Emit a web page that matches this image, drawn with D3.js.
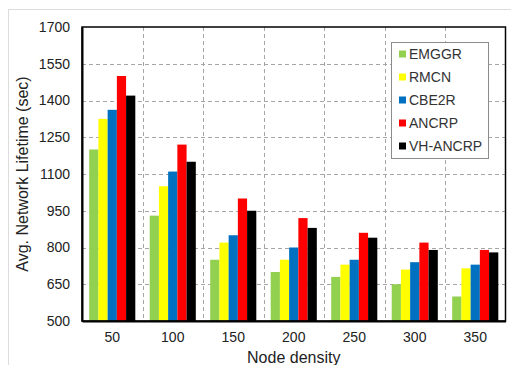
<!DOCTYPE html>
<html>
<head>
<meta charset="utf-8">
<script src="https://cdn.jsdelivr.net/npm/d3@7"></script>
<style>
  body { margin: 0; background: #fff; }
  svg { display: block; font-family: Arial, "Liberation Sans", sans-serif; }
</style>
</head>
<body>
<svg width="512" height="365"></svg>
<script>
// data
var densities = ["50", "100", "150", "200", "250", "300", "350"];
var protocols = ["EMGGR", "RMCN", "CBE2R", "ANCRP", "VH-ANCRP"];
var EMGGR    = [1200, 930, 750, 700, 680, 650, 600];
var RMCN     = [1325, 1050, 820, 750, 730, 710, 715];
var CBE2R    = [1362, 1110, 850, 800, 750, 740, 730];
var ANCRP    = [1500, 1220, 1000, 920, 860, 820, 790];
var VH_ANCRP = [1420, 1150, 950, 880, 840, 790, 780];
var yTicks = [500, 650, 800, 950, 1100, 1250, 1400, 1550, 1700];

var seriesValues = [EMGGR, RMCN, CBE2R, ANCRP, VH_ANCRP];
var colors = ["#92d050", "#ffff00", "#0070c0", "#ff0000", "#000000"];

// plot box (window.top is reserved, so keep these in an object)
var box = {left: 82, right: 505.5, top: 27, bottom: 321};

var svg = d3.select("svg");

// faint frame around the figure
svg.append("path")
    .attr("d", "M8.5,365 V9.5 H511")
    .attr("fill", "none")
    .attr("stroke", "#dcdcdc");

// Scales
var x0 = d3.scaleBand().domain(densities).range([box.left, box.right]);
var x1 = d3.scaleBand().domain(protocols).range([0, x0.bandwidth()])
    .paddingInner(0).paddingOuter(0.78);
var y = d3.scaleLinear().domain([500, 1700]).range([box.bottom, box.top]);
var color = d3.scaleOrdinal().domain(protocols).range(colors);

// grid
var grid = svg.append("g").attr("class", "grid");
grid.selectAll("line.h")
    .data(yTicks.slice(1, -1))
  .enter().append("line")
    .attr("class", "h")
    .attr("x1", box.left).attr("x2", box.right)
    .attr("y1", function(d) { return Math.round(y(d)) + 0.5; })
    .attr("y2", function(d) { return Math.round(y(d)) + 0.5; });
grid.selectAll("line.v")
    .data(densities.slice(1))
  .enter().append("line")
    .attr("class", "v")
    .attr("x1", function(d) { return Math.round(x0(d)) + 0.5; })
    .attr("x2", function(d) { return Math.round(x0(d)) + 0.5; })
    .attr("y1", box.top).attr("y2", box.bottom);
grid.selectAll("line")
    .attr("stroke", "#a6a6a6")
    .attr("stroke-width", 1)
    .attr("stroke-dasharray", "4,3");

// bars
var rows = densities.map(function(d, i) {
  return protocols.map(function(p, j) { return {cat: d, key: p, value: seriesValues[j][i]}; });
});

svg.append("g")
  .selectAll("g")
  .data(rows)
  .enter().append("g")
    .attr("transform", function(d, i) { return "translate(" + x0(densities[i]) + ",0)"; })
  .selectAll("rect")
  .data(function(d) { return d; })
  .enter().append("rect")
    .attr("x", function(d) { return x1(d.key); })
    .attr("width", x1.bandwidth())
    .attr("y", function(d) { return y(d.value); })
    .attr("height", function(d) { return y(500) - y(d.value); })
    .attr("fill", function(d) { return color(d.key); });

// plot frame
svg.append("rect")
    .attr("x", box.left).attr("y", box.top)
    .attr("width", box.right - box.left).attr("height", box.bottom - box.top)
    .attr("fill", "none")
    .attr("stroke", "#000")
    .attr("stroke-width", 1.5);

// axes
var yAxis = svg.append("g")
    .attr("transform", "translate(" + box.left + ",0)")
    .call(d3.axisLeft(y).tickValues(yTicks).tickFormat(d3.format("d"))
      .tickSize(0).tickPadding(12));
yAxis.select(".domain").attr("stroke", "#000").attr("stroke-width", 2);
yAxis.selectAll("text").style("font-size", "14px").attr("fill", "#222");

var xAxis = svg.append("g")
    .attr("transform", "translate(0," + box.bottom + ")")
    .call(d3.axisBottom(x0).tickSize(0).tickPadding(11));
xAxis.select(".domain").attr("stroke", "#000").attr("stroke-width", 2);
xAxis.selectAll("text").style("font-size", "14px").attr("fill", "#222");

// axis titles (the reference crops this one at the bottom edge)
svg.append("text")
    .attr("x", (box.left + box.right) / 2)
    .attr("y", 363)
    .attr("text-anchor", "middle")
    .style("font-size", "16px")
    .attr("fill", "#222")
    .text("Node density");

svg.append("text")
    .attr("transform", "translate(28," + (box.top + box.bottom) / 2 + ") rotate(-90)")
    .attr("text-anchor", "middle")
    .style("font-size", "16px")
    .attr("fill", "#222")
    .text("Avg. Network Lifetime (sec)");

// legend
var legend = svg.append("g").attr("transform", "translate(391,42)");
legend.append("rect")
    .attr("x", 0.5).attr("y", 0.5)
    .attr("width", 97).attr("height", 116)
    .attr("fill", "#fff")
    .attr("stroke", "#8c8c8c");

var item = legend.selectAll("g.item")
    .data(protocols)
  .enter().append("g")
    .attr("class", "item")
    .attr("transform", function(d, i) { return "translate(8," + (12 + i * 23) + ")"; });
item.append("rect")
    .attr("x", 0).attr("y", -3.5)
    .attr("width", 7).attr("height", 7)
    .attr("fill", function(d) { return color(d); });
item.append("text")
    .attr("x", 10).attr("y", 5)
    .style("font-size", "14px")
    .attr("fill", "#333")
    .text(function(d) { return d; });
</script>
</body>
</html>
